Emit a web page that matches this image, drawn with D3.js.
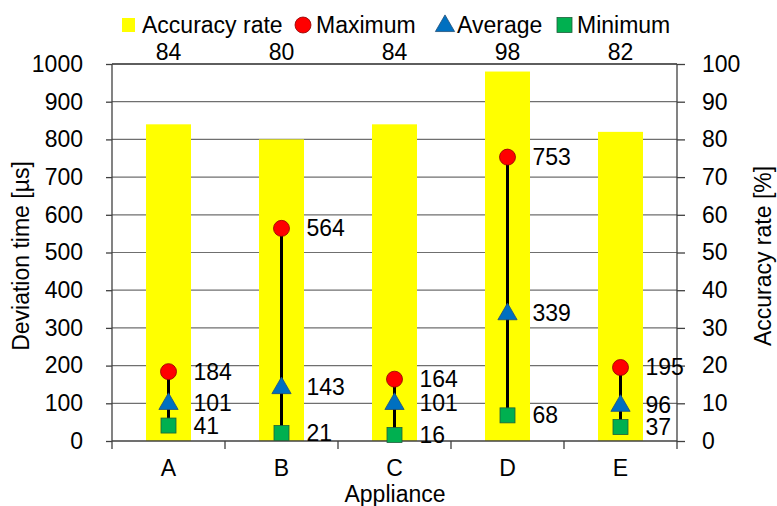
<!DOCTYPE html>
<html>
<head>
<meta charset="utf-8">
<script src="https://cdn.jsdelivr.net/npm/d3@7"></script>
<style>
  body { margin: 0; background: #fff; }
  svg text { font-family: 'Liberation Sans', Arimo, Arial, Roboto, sans-serif; fill: #000; }
</style>
</head>
<body>
<script>
// chart data
var appliances = ["A", "B", "C", "D", "E"];
var accuracyRate = [84, 80, 84, 98, 82];
var maxTime = [184, 564, 164, 753, 195];
var avgTime = [101, 143, 101, 339, 96];
var minTime = [41, 21, 16, 68, 37];
var leftTicks = [0, 100, 200, 300, 400, 500, 600, 700, 800, 900, 1000];
var rightTicks = [0, 10, 20, 30, 40, 50, 60, 70, 80, 90, 100];

var W = 777, H = 506;
var padL = 112, padR = 677, padT = 64, padB = 441;
var FS = 23;
var FONT = "'Liberation Sans', Arimo, Arial, Roboto, sans-serif";

var svg = d3.select("body").append("svg")
  .attr("width", W).attr("height", H)
  .attr("font-family", FONT);

var x = d3.scaleBand().domain(appliances).range([padL, padR]);
var yL = d3.scaleLinear().domain([0, 1000]).range([padB, padT]);
var yR = d3.scaleLinear().domain([0, 100]).range([padB, padT]);

var data = appliances.map(function(a, i) {
  return { name: a, acc: accuracyRate[i], max: maxTime[i], avg: avgTime[i], min: minTime[i] };
});
function cx(d) { return x(d.name) + x.bandwidth() / 2; }

// gridlines
svg.append("g").selectAll("line")
  .data(leftTicks.slice(1))
  .enter().append("line")
  .attr("x1", padL).attr("x2", padR)
  .attr("y1", function(d) { return yL(d); })
  .attr("y2", function(d) { return yL(d); })
  .attr("stroke", "#6f6f6f").attr("stroke-width", 1.2);

// accuracy bars
var barW = 45;
svg.selectAll("rect.bar")
  .data(data).enter().append("rect")
  .attr("class", "bar")
  .attr("x", function(d) { return cx(d) - barW / 2; })
  .attr("y", function(d) { return yR(d.acc); })
  .attr("width", barW)
  .attr("height", function(d) { return padB - yR(d.acc); })
  .attr("fill", "#ffff00");

svg.selectAll("text.barlab")
  .data(data).enter().append("text")
  .attr("class", "barlab")
  .attr("x", cx)
  .attr("y", function(d) { return Math.min(yR(d.acc) - 8, padT - 4); })
  .attr("text-anchor", "middle")
  .attr("font-size", FS)
  .text(function(d) { return d.acc; });

// axes
var axL = d3.axisLeft(yL).tickValues(leftTicks).tickFormat(d3.format("d")).tickSize(6).tickPadding(23);
var axR = d3.axisRight(yR).tickValues(rightTicks).tickFormat(d3.format("d")).tickSize(8).tickPadding(17);
var axB = d3.axisBottom(x).tickSize(0).tickPadding(19);

function styleAxis(g) {
  g.attr("font-family", FONT).attr("font-size", FS);
  g.selectAll("path, line").attr("stroke", "#404040").attr("stroke-width", 1.3);
  g.selectAll("text").attr("fill", "#000");
}

svg.append("g").attr("transform", "translate(" + padL + ",0)").call(axL).call(styleAxis)
  .select(".domain").attr("d", "M0," + padB + "V" + padT);
svg.append("g").attr("transform", "translate(" + padR + ",0)").call(axR).call(styleAxis)
  .select(".domain").attr("d", "M0," + padB + "V" + padT);

var gB = svg.append("g").attr("transform", "translate(0," + padB + ")").call(axB).call(styleAxis);
gB.select(".domain").attr("d", "M" + padL + ",0H" + padR);
gB.selectAll(".sep").data(d3.range(appliances.length + 1)).enter().append("line")
  .attr("x1", function(i) { return padL + i * x.step(); })
  .attr("x2", function(i) { return padL + i * x.step(); })
  .attr("y1", 0).attr("y2", 8)
  .attr("stroke", "#404040").attr("stroke-width", 1.3);

// top border of the plot area
svg.append("line")
  .attr("x1", padL).attr("x2", padR).attr("y1", padT).attr("y2", padT)
  .attr("stroke", "#404040").attr("stroke-width", 1.3);

// range lines
svg.selectAll("line.range")
  .data(data).enter().append("line")
  .attr("class", "range")
  .attr("x1", cx).attr("x2", cx)
  .attr("y1", function(d) { return yL(d.min); })
  .attr("y2", function(d) { return yL(d.max); })
  .attr("stroke", "#000").attr("stroke-width", 3);

// minimum squares
svg.selectAll("rect.min")
  .data(data).enter().append("rect")
  .attr("class", "min")
  .attr("x", function(d) { return cx(d) - 7.5; })
  .attr("y", function(d) { return yL(d.min) - 7.5; })
  .attr("width", 15).attr("height", 15)
  .attr("fill", "#00b050").attr("stroke", "#1f5f3a").attr("stroke-width", 0.8);

// average triangles
var tri = d3.symbol().type(d3.symbolTriangle).size(160);
svg.selectAll("path.avg")
  .data(data).enter().append("path")
  .attr("class", "avg")
  .attr("d", tri)
  .attr("transform", function(d) { return "translate(" + cx(d) + "," + (yL(d.avg) + 1) + ")"; })
  .attr("fill", "#0070c0").attr("stroke", "#1f4e79").attr("stroke-width", 0.8);

// maximum circles
svg.selectAll("circle.max")
  .data(data).enter().append("circle")
  .attr("class", "max")
  .attr("cx", cx)
  .attr("cy", function(d) { return yL(d.max); })
  .attr("r", 8)
  .attr("fill", "#ff0000").attr("stroke", "#8b0000").attr("stroke-width", 0.8);

// value labels
["max", "avg", "min"].forEach(function(k) {
  svg.selectAll("text.lab" + k)
    .data(data).enter().append("text")
    .attr("class", "lab" + k)
    .attr("x", function(d) { return cx(d) + 25; })
    .attr("y", function(d) { return yL(d[k]) + 8; })
    .attr("font-size", FS)
    .text(function(d) { return d[k]; });
});

// axis titles
svg.append("text")
  .attr("transform", "translate(29,256) rotate(-90)")
  .attr("text-anchor", "middle").attr("font-size", FS)
  .text("Deviation time [µs]");
svg.append("text")
  .attr("transform", "translate(771,256) rotate(-90)")
  .attr("text-anchor", "middle").attr("font-size", FS)
  .text("Accuracy rate [%]");
svg.append("text")
  .attr("x", 395).attr("y", 502)
  .attr("text-anchor", "middle").attr("font-size", FS)
  .text("Appliance");

// legend
var legendY = 25;
var lg = svg.append("g");
lg.append("rect").attr("x", 122).attr("y", legendY - 7).attr("width", 13).attr("height", 14).attr("fill", "#ffff00");
lg.append("text").attr("x", 142).attr("y", legendY + 8).attr("font-size", FS).text("Accuracy rate");
lg.append("circle").attr("cx", 303).attr("cy", legendY).attr("r", 8)
  .attr("fill", "#ff0000").attr("stroke", "#8b0000").attr("stroke-width", 0.8);
lg.append("text").attr("x", 316).attr("y", legendY + 8).attr("font-size", FS).text("Maximum");
lg.append("path").attr("d", tri).attr("transform", "translate(445," + (legendY + 1) + ")")
  .attr("fill", "#0070c0").attr("stroke", "#1f4e79").attr("stroke-width", 0.8);
lg.append("text").attr("x", 457).attr("y", legendY + 8).attr("font-size", FS).text("Average");
lg.append("rect").attr("x", 557).attr("y", legendY - 7.5).attr("width", 15).attr("height", 15)
  .attr("fill", "#00b050").attr("stroke", "#1f5f3a").attr("stroke-width", 0.8);
lg.append("text").attr("x", 577).attr("y", legendY + 8).attr("font-size", FS).text("Minimum");
</script>
</body>
</html>
